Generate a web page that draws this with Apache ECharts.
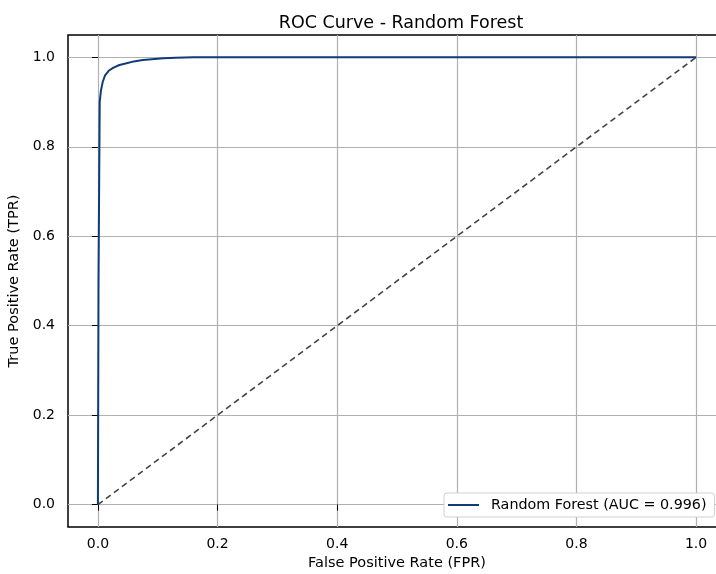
<!DOCTYPE html>
<html>
<head>
<meta charset="utf-8">
<script src="https://cdn.jsdelivr.net/npm/echarts@6/dist/echarts.min.js"></script>
<style>
  html, body { margin: 0; padding: 0; background: #fff; overflow: hidden; }
  /* wider than the window: the right spine sits just off-screen, as in the reference */
  #chart { width: 740px; height: 574px; }
</style>
</head>
<body>
<div id="chart"></div>
<script>
// ROC curve points
const fpr = [0, 0.001, 0.003, 0.005, 0.008, 0.012, 0.018, 0.026, 0.036, 0.048, 0.06, 0.075, 0.09, 0.11, 0.13, 0.16, 0.3, 0.5, 0.75, 1.0];
const tpr = [0, 0.5, 0.90, 0.925, 0.945, 0.96, 0.970, 0.977, 0.983, 0.987, 0.991, 0.994, 0.996, 0.998, 0.999, 1.0, 1.0, 1.0, 1.0, 1.0];
const chanceX = [0, 1];
const chanceY = [0, 1];
const tickValues = [0, 0.2, 0.4, 0.6, 0.8, 1.0];
const rocLabel = "Random Forest (AUC = 0.996)";

const font = "DejaVu Sans, sans-serif";
const chart = echarts.init(document.getElementById("chart"));

const axisCommon = {
  type: "value",
  min: -0.05,
  max: 1.05,
  axisLine: { show: false },
  axisTick: {
    show: true,
    customValues: tickValues,
    length: 6,
    lineStyle: { color: "#000", width: 1 },
  },
  axisLabel: {
    customValues: tickValues,
    formatter: (v) => v.toFixed(1),
    color: "#000",
    fontSize: 14,
    fontFamily: font,
  },
  splitLine: { show: true, lineStyle: { color: "#b0b0b0", width: 1.2 } },
  nameLocation: "middle",
  nameTextStyle: { color: "#000", fontSize: 14.5, fontFamily: font },
};

const option = {
  animation: false,
  backgroundColor: "#fff",
  title: {
    text: "ROC Curve - Random Forest",
    left: 396,
    textAlign: "center",
    top: 9,
    textStyle: { fontSize: 17.5, fontWeight: "normal", color: "#000", fontFamily: font },
  },
  grid: {
    left: 68,
    right: 14,
    top: 35,
    bottom: 47,
    outerBoundsMode: "none",
    show: true,
    borderColor: "#000",
    borderWidth: 1.5,
    backgroundColor: "transparent",
  },
  legend: {
    data: [rocLabel],
    left: 444,
    top: 493,
    orient: "vertical",
    icon: "rect",
    itemWidth: 31,
    itemHeight: 2,
    itemGap: 6,
    padding: [5, 8, 5, 4],
    backgroundColor: "#fff",
    borderColor: "#d0d0d0",
    borderWidth: 1,
    borderRadius: 3,
    textStyle: { color: "#000", fontSize: 14.3, fontFamily: font, padding: [0, 0, 0, 7] },
  },
  xAxis: Object.assign({}, axisCommon, {
    name: "False Positive Rate (FPR)",
    nameGap: 29,
    axisLabel: Object.assign({}, axisCommon.axisLabel, { margin: 10 }),
  }),
  yAxis: Object.assign({}, axisCommon, {
    name: "True Positive Rate (TPR)",
    nameGap: 38,
    axisLabel: Object.assign({}, axisCommon.axisLabel, { margin: 13 }),
  }),
  series: [
    {
      name: rocLabel,
      type: "line",
      data: fpr.map((x, i) => [x, tpr[i]]),
      showSymbol: false,
      symbol: "none",
      smooth: false,
      lineStyle: { color: "#0f3b78", width: 2 },
      itemStyle: { color: "#0f3b78" },
      z: 3,
    },
    {
      name: "chance",
      type: "line",
      data: chanceX.map((x, i) => [x, chanceY[i]]),
      symbol: "none",
      lineStyle: { color: "#444", width: 1.6, type: [6, 4] },
      z: 2,
    },
  ],
};

chart.setOption(option);
</script>
</body>
</html>
